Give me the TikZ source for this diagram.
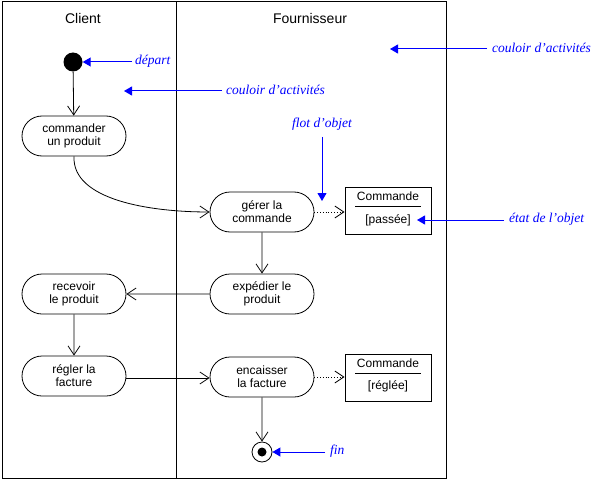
\documentclass[tikz,border=0pt]{standalone}
\usepackage{fontspec}
\setmainfont{Liberation Sans}
\newfontfamily\notefont{Liberation Serif}
\usetikzlibrary{arrows.meta,shapes.misc}
\definecolor{noteblue}{RGB}{0,0,255}
\begin{document}
\begin{tikzpicture}[x=1pt,y=-1pt,
  act/.style={draw,line width=0.8pt,rounded rectangle,minimum width=104pt,minimum height=40pt,inner sep=0pt,align=center,font=\fontsize{12}{15}\selectfont},
  flow/.style={draw,-{Straight Barb[open,length=9pt,width=12pt]},line width=0.8pt},
  objflow/.style={draw,dotted,-{Straight Barb[open,length=9pt,width=12pt]},line width=0.8pt},
  note/.style={font=\notefont\itshape\fontsize{13.5}{15}\selectfont,text=noteblue,inner sep=1pt},
  notearrow/.style={draw=noteblue,line width=1pt,-{Triangle[length=8pt,width=9pt]}},
  objbox/.style={draw,line width=0.9pt,minimum width=86pt,minimum height=47pt,inner sep=0pt},
  lbl/.style={font=\fontsize{12}{15}\selectfont,inner sep=0pt},
  lane/.style={font=\fontsize{14}{16}\selectfont,inner sep=0pt}
]
\useasboundingbox (0,0) rectangle (593,481);
% frame and lanes
\draw[line width=1pt] (2,2) rectangle (446,478);
\draw[line width=1pt] (176,2) -- (176,478);
\node[lane] (client) at (83,18) {Client};
\node[lane] (fourn) at (310,18) {Fournisseur};

% start/end
\node[circle,fill=black,minimum size=19pt,inner sep=0pt] (start) at (73,62) {};
\node[circle,draw,line width=0.8pt,minimum size=20pt,inner sep=0pt] (fin) at (262,452) {};
\node[circle,fill=black,minimum size=9pt,inner sep=0pt] (findot) at (262,452) {};

% activities
\node[act] (cmd) at (74,136) {commander\\[-2pt]un produit};
\node[act] (ger) at (262,212) {gérer la\\[-2pt]commande};
\node[act] (exp) at (262,294) {expédier le\\[-2pt]produit};
\node[act] (rec) at (74,294) {recevoir\\[-2pt]le produit};
\node[act] (reg) at (74,376) {régler la\\[-2pt]facture};
\node[act] (enc) at (262,377) {encaisser\\[-2pt]la facture};

% objects
\node[objbox] (obj1) at (388,210.5) {};
\node[lbl] (obj1a) at (388,196) {Commande};
\node[lbl] (obj1b) at (388,220) {[passée]};
\draw[line width=0.8pt] (355,206) -- (421,206);
\node[objbox] (obj2) at (388,377.5) {};
\node[lbl] (obj2a) at (388,363) {Commande};
\node[lbl] (obj2b) at (388,386) {[réglée]};
\draw[line width=0.8pt] (355,373) -- (421,373);

% flows
\draw[flow] (start) -- (cmd);
\draw[flow] (cmd.south) .. controls (72,200) and (150,212) .. (ger.west);
\draw[flow] (ger) -- (exp);
\draw[flow] (exp) -- (rec);
\draw[flow] (rec) -- (reg);
\draw[flow] (reg.east |- 0,378) -- (enc.west |- 0,378);
\draw[flow] (enc) -- (fin);
\draw[objflow] (ger.east) -- (obj1.west |- ger.east);
\draw[objflow] (enc.east) -- (obj2.west |- enc.east);

% annotations
\node[note,anchor=west] (ndep) at (134,61) {départ};
\coordinate (ndepS) at (132,62);
\draw[notearrow] (ndepS) -- (start);
\node[note,anchor=west] (ncoul1) at (225,90) {couloir d’activités};
\coordinate (nc1S) at (222,91);
\coordinate (nc1E) at (124,91);
\draw[notearrow] (nc1S) -- (nc1E);
\node[note,anchor=west] (ncoul2) at (491,48) {couloir d’activités};
\coordinate (nc2S) at (487,49);
\coordinate (nc2E) at (390,49);
\draw[notearrow] (nc2S) -- (nc2E);
\node[note] (nflot) at (322,124) {flot d’objet};
\coordinate (nflS) at (322,137);
\coordinate (nflE) at (322,201);
\draw[notearrow] (nflS) -- (nflE);
\node[note,anchor=west] (netat) at (508,219) {état de l’objet};
\coordinate (netS) at (504,220);
\coordinate (netE) at (417,220);
\draw[notearrow] (netS) -- (netE);
\node[note,anchor=west] (nfin) at (329,451) {fin};
\coordinate (nfinS) at (325,452);
\draw[notearrow] (nfinS) -- (fin);
\end{tikzpicture}
\end{document}
